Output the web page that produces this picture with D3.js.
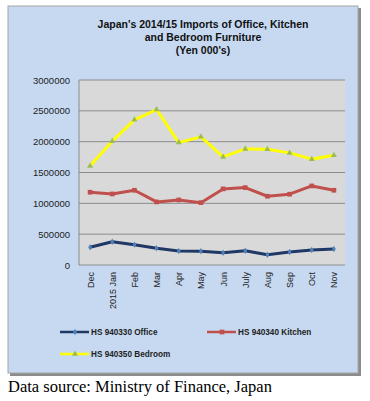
<!DOCTYPE html>
<html>
<head>
<meta charset="utf-8">
<script src="https://cdn.jsdelivr.net/npm/d3@7"></script>
<style>
  body { margin: 0; background: #fff; }
</style>
</head>
<body>
<div id="chart"></div>
<script>
const months = ["Dec", "2015 Jan", "Feb", "Mar", "Apr", "May", "Jun", "July", "Aug", "Sep", "Oct", "Nov"];
const office = [287000, 378000, 330000, 271000, 227000, 222000, 198000, 232000, 167000, 211000, 243000, 258000];
const kitchen = [1180000, 1152000, 1212000, 1023000, 1055000, 1011000, 1234000, 1255000, 1115000, 1148000, 1282000, 1212000];
const bedroom = [1607000, 2008000, 2354000, 2521000, 1985000, 2078000, 1753000, 1883000, 1877000, 1818000, 1716000, 1781000];
const yTicks = [0, 500000, 1000000, 1500000, 2000000, 2500000, 3000000];

function init() {
  const width = 370, height = 401;
  const plot = { left: 79, right: 345, top: 80, bottom: 265 };

  const svg = d3.select("#chart").append("svg")
      .attr("width", width)
      .attr("height", height)
      .style("display", "block");

  // frame with shadow
  svg.append("rect").attr("x", 10).attr("y", 8).attr("width", 351).attr("height", 368).attr("fill", "#8c8c8c");
  svg.append("rect").attr("x", 8).attr("y", 6).attr("width", 350).attr("height", 367)
      .attr("fill", "#c6d9f1").attr("stroke", "#a6a6a6").attr("stroke-width", 1);

  const title = ["Japan's 2014/15  Imports of Office, Kitchen", "and Bedroom Furniture", "(Yen 000's)"];
  svg.append("g").selectAll("text").data(title).join("text")
      .attr("x", 203)
      .attr("y", (d, i) => 28 + i * 13)
      .attr("text-anchor", "middle")
      .attr("font-family", "Liberation Sans, Arial, sans-serif")
      .attr("font-weight", "bold")
      .attr("font-size", 10.5)
      .attr("fill", "#111")
      .text(d => d);

  const x = d3.scaleBand().domain(months).range([plot.left, plot.right]);
  const y = d3.scaleLinear().domain([0, 3000000]).range([plot.bottom, plot.top]);
  const cx = d => x(d) + x.bandwidth() / 2;

  svg.append("rect").attr("x", plot.left).attr("y", plot.top)
      .attr("width", plot.right - plot.left).attr("height", plot.bottom - plot.top)
      .attr("fill", "#d9d9d9");

  svg.append("g").selectAll("line").data(yTicks).join("line")
      .attr("x1", plot.left).attr("x2", plot.right)
      .attr("y1", d => y(d)).attr("y2", d => y(d))
      .attr("stroke", "#8c8c8c").attr("stroke-width", 1);
  svg.append("line").attr("x1", plot.left).attr("x2", plot.left)
      .attr("y1", plot.top).attr("y2", plot.bottom).attr("stroke", "#8c8c8c");

  svg.append("g").selectAll("text").data(yTicks).join("text")
      .attr("x", 70)
      .attr("y", d => y(d) + 3.5)
      .attr("text-anchor", "end")
      .attr("font-family", "Liberation Sans, Arial, sans-serif")
      .attr("font-size", 9.5)
      .attr("fill", "#222")
      .text(d => d);

  svg.append("g").selectAll("text").data(months).join("text")
      .attr("transform", d => `translate(${cx(d) + 3.5},${plot.bottom + 7}) rotate(-90)`)
      .attr("text-anchor", "end")
      .attr("font-family", "Liberation Sans, Arial, sans-serif")
      .attr("font-size", 9)
      .attr("fill", "#222")
      .text(d => d);

  const series = [
    { name: "HS 940330 Office", values: office, line: "#1f3864", marker: "#4f81bd", shape: d3.symbolDiamond, size: 12 },
    { name: "HS 940340 Kitchen", values: kitchen, line: "#c0504d", marker: "#c0504d", shape: d3.symbolSquare, size: 22 },
    { name: "HS 940350 Bedroom", values: bedroom, line: "#ffff00", marker: "#9bbb59", shape: d3.symbolTriangle, size: 16 }
  ];

  const line = d3.line().x((d, i) => cx(months[i])).y(d => y(d));

  series.forEach(s => {
    svg.append("path").datum(s.values)
        .attr("d", line)
        .attr("fill", "none")
        .attr("stroke", s.line)
        .attr("stroke-width", 3)
        .attr("stroke-linejoin", "round");
    svg.append("g").selectAll("path").data(s.values).join("path")
        .attr("transform", (d, i) => `translate(${cx(months[i])},${y(d)})`)
        .attr("d", d3.symbol(s.shape, s.size))
        .attr("fill", s.marker);
  });

  // legend
  const legendPos = [[60, 332], [207, 332], [60, 354]];
  series.forEach((s, i) => {
    const [lx, ly] = legendPos[i];
    svg.append("line").attr("x1", lx).attr("x2", lx + 29).attr("y1", ly).attr("y2", ly)
        .attr("stroke", s.line).attr("stroke-width", 2.5);
    svg.append("path").attr("transform", `translate(${lx + 15},${ly})`)
        .attr("d", d3.symbol(s.shape, s.size)).attr("fill", s.marker);
    svg.append("text").attr("x", lx + 31).attr("y", ly + 3)
        .attr("font-family", "Liberation Sans, Arial, sans-serif")
        .attr("font-weight", "bold")
        .attr("font-size", 8.2)
        .attr("fill", "#222")
        .text(s.name);
  });

  svg.append("text").attr("x", 8).attr("y", 392)
      .attr("font-family", "Liberation Serif, Times New Roman, serif")
      .attr("font-size", 16.5)
      .attr("fill", "#000")
      .text("Data source: Ministry of Finance, Japan");
}

document.addEventListener("DOMContentLoaded", init);
</script>
</body>
</html>
